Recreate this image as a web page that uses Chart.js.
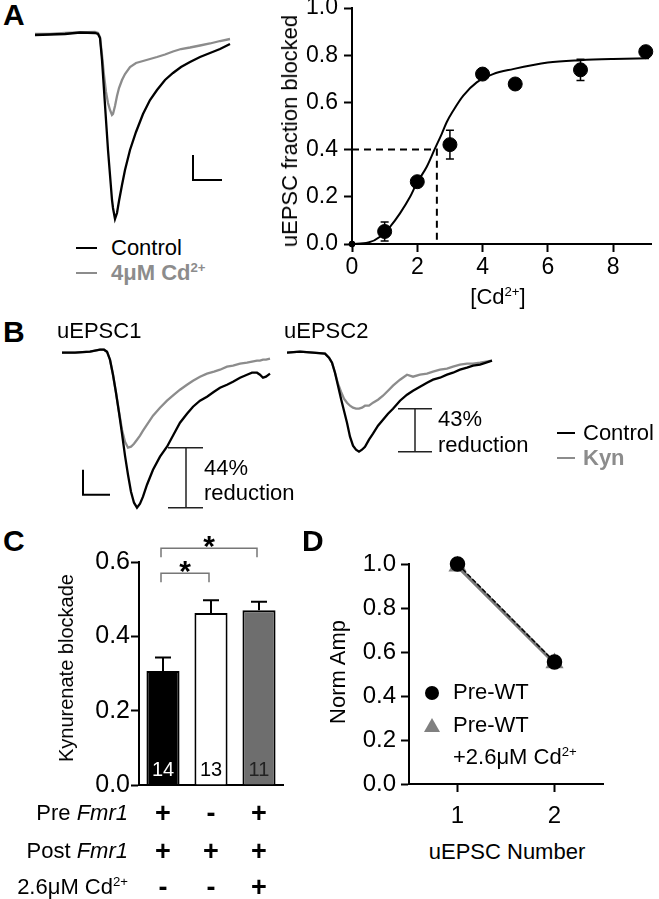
<!DOCTYPE html>
<html>
<head>
<meta charset="utf-8">
<script src="https://cdn.jsdelivr.net/npm/chart.js@4.4.1/dist/chart.umd.min.js"></script>
<style>
  html, body { margin: 0; padding: 0; background: #fff; }
  body { width: 659px; height: 899px; position: relative; overflow: hidden;
         font-family: 'Liberation Sans', Arial, Helvetica, sans-serif; color: #000; }
  canvas { position: absolute; }
  .t { position: absolute; white-space: nowrap; line-height: 1; font-size: 22px; transform: translateY(-50%); }
  .c { transform: translate(-50%, -50%); }
  .r { transform: translate(-100%, -50%); }
  .rot { transform: translate(-50%, -50%) rotate(-90deg); }
  .lbl { font-weight: bold; font-size: 30px; }
  .grey { color: #8c8c8c; font-weight: bold; }
  .sym { font-weight: bold; font-size: 27px; transform: translate(-50%, -50%); }
  sup { font-size: 0.6em; line-height: 0; vertical-align: 0.62em; }
  .ln { position: absolute; height: 2px; }
</style>
</head>
<body>

<canvas id="aTrace" width="196" height="200" style="left:35px;top:24px"></canvas>
<canvas id="aDose" width="379" height="330" style="left:280px;top:-12px"></canvas>
<canvas id="bTrace1" width="210" height="180" style="left:62px;top:340px"></canvas>
<canvas id="bTrace2" width="210" height="180" style="left:287px;top:340px"></canvas>
<canvas id="cBars" width="260" height="300" style="left:40px;top:520px"></canvas>
<canvas id="dPair" width="300" height="300" style="left:320px;top:530px"></canvas>

<!-- panel A -->
<div class="t lbl" style="left:3px;top:15px">A</div>
<div class="ln" style="left:76px;top:247px;width:21px;background:#000"></div>
<div class="t" style="left:111px;top:248px">Control</div>
<div class="ln" style="left:76px;top:272px;width:21px;background:#8c8c8c"></div>
<div class="t grey" style="left:111px;top:273px">4μM Cd<sup>2+</sup></div>
<div class="t rot" style="left:290px;top:131px">uEPSC fraction blocked</div>
<div class="t c" style="left:498px;top:297px">[Cd<sup>2+</sup>]</div>

<!-- panel B -->
<div class="t lbl" style="left:3px;top:332px">B</div>
<div class="t" style="left:57px;top:331px">uEPSC1</div>
<div class="t" style="left:284px;top:331px">uEPSC2</div>
<div class="t" style="left:204px;top:468px">44%</div>
<div class="t" style="left:204px;top:493px">reduction</div>
<div class="t" style="left:438px;top:419px">43%</div>
<div class="t" style="left:438px;top:445px">reduction</div>
<div class="ln" style="left:557px;top:432px;width:18px;background:#000"></div>
<div class="t" style="left:583px;top:433px">Control</div>
<div class="ln" style="left:557px;top:457px;width:18px;background:#8c8c8c"></div>
<div class="t grey" style="left:583px;top:458px">Kyn</div>

<!-- panel C -->
<div class="t lbl" style="left:3px;top:541px">C</div>
<div class="t rot" style="left:66px;top:668px;font-size:20px">Kynurenate blockade</div>
<div class="t r" style="left:128px;top:813px">Pre <i>Fmr1</i></div>
<div class="t r" style="left:128px;top:851px">Post <i>Fmr1</i></div>
<div class="t r" style="left:128px;top:887px">2.6μM Cd<sup>2+</sup></div>
<div id="table"></div>

<!-- panel D -->
<div class="t lbl" style="left:302px;top:541px">D</div>
<div class="t rot" style="left:338px;top:672px">Norm Amp</div>
<div class="t c" style="left:507px;top:852px">uEPSC Number</div>
<div style="position:absolute;left:425px;top:686px;width:14px;height:14px;border-radius:50%;background:#000"></div>
<div class="t" style="left:453px;top:692px">Pre-WT</div>
<div style="position:absolute;left:424px;top:718px;width:0;height:0;border-left:8px solid transparent;border-right:8px solid transparent;border-bottom:14px solid #808080"></div>
<div class="t" style="left:453px;top:725px">Pre-WT</div>
<div class="t" style="left:453px;top:757px">+2.6μM Cd<sup>2+</sup></div>

<script>
// ---- A: example traces (time in ms-like units, current in pA-like units) ----
const aTime = [0, 15, 30, 45, 60, 63, 65, 67, 69, 71, 73, 75, 77, 78, 80, 82, 84, 87, 90, 95, 101, 108, 115, 122, 130, 138, 146, 155, 165, 175, 185, 195];
const aControl = [-1, -0.5, 0, 1.5, 1, 0, -4, -26, -56, -86, -116, -141, -166, -174, -185, -179, -167, -151, -136, -116, -98, -80, -66, -56, -46, -39, -33, -28, -23, -19, -15, -10];
const aCd4 = [0, 0, 1, 1.5, 2, 1, -3, -21, -41, -58, -69, -76, -81, -80, -72, -62, -54, -46, -40, -33, -29, -27, -25, -23, -20.5, -17.5, -15, -13.5, -11.5, -9.5, -7, -5];
const aBarTime = [158, 158, 187];
const aBarCurrent = [-121, -146, -146];

// ---- A: dose response ----
const cdConc = [0, 1, 2, 3, 4, 5, 7, 9];
const fracBlocked = [0, 0.053, 0.264, 0.421, 0.72, 0.678, 0.738, 0.815];
const fracErr = [0, 0.04, 0, 0.061, 0, 0, 0.045, 0];
const fitConc = [0, 0.5, 0.87, 1.17, 1.47, 1.78, 1.98, 2.29, 2.54, 2.75, 2.9, 3.1, 3.41, 3.82, 4.32, 4.93, 6, 7, 8, 9.1];
const fitFrac = [0, 0.006, 0.032, 0.074, 0.13, 0.2, 0.257, 0.327, 0.404, 0.467, 0.516, 0.565, 0.629, 0.685, 0.72, 0.741, 0.769, 0.779, 0.784, 0.787];
const ec50Conc = 2.6;
const halfBlock = 0.4;
const doseTicks = [0, 2, 4, 6, 8];

// ---- B: uEPSC1 / uEPSC2 traces ----
const b1Time = [0, 13, 28, 38, 42, 45, 48, 51, 54, 57, 60, 63, 66, 69, 72, 75, 78, 81, 85, 91, 98, 105, 112, 118, 125, 131, 138, 145, 152, 158, 165, 171, 178, 185, 190, 195, 198, 201, 204, 208];
const b1Control = [0, 0, 1, 3, 3, 1, -7, -22, -40, -60, -81, -103, -122, -139, -150, -155, -151, -144, -132, -117, -104, -94, -81, -70, -61, -54, -48, -44, -39, -35, -32, -29, -25, -22, -20, -20, -22, -25, -24, -21];
const b1Kyn = [0, 0, 1, 3, 3, 1, -7, -22, -40, -59, -77, -89, -95, -94, -91, -87, -83, -78, -72, -63, -55, -48, -42, -37, -32, -28, -24, -21, -19, -17, -14, -13, -11, -10, -9, -8, -8, -7, -7, -6];
const b2Time = [0, 13, 26, 38, 42, 45, 48, 51, 54, 57, 60, 63, 66, 69, 72, 75, 78, 82, 86, 91, 96, 101, 106, 113, 120, 126, 133, 140, 146, 153, 160, 166, 173, 180, 186, 193, 199, 205];
const b2Control = [0, 1, 0, -1, -5, -10, -20, -33, -46, -58, -70, -84, -93, -97, -99, -97, -94, -87, -81, -73, -67, -61, -56, -48, -42, -38, -34, -30, -27, -25, -22, -20, -17, -15, -13, -12, -10, -8];
const b2Kyn = [0, 1, 0, -1, -5, -10, -20, -31, -39, -46, -50, -53, -55, -56, -56, -55, -53, -53, -50, -47, -43, -38, -33, -27, -22, -24, -22, -21, -19, -17, -16, -14, -12, -11, -11, -10, -9, -8];
const bBarTime = [21, 21, 48];
const bBarCurrent = [-117, -142, -142];
const b1BracketTime = [106, 124, 141];
const b2BracketTime = [111, 128, 145];

// ---- C: kynurenate blockade ----
const groups = ['Pre+ Post+', 'Pre- Post+', 'Pre+ Post+ Cd'];
const blockade = [0.307, 0.463, 0.470];
const blockadeErr = [0.036, 0.034, 0.023];
const nCells = [14, 13, 11];
const preFmr1 = ['+', '-', '+'];
const postFmr1 = ['+', '+', '+'];
const cdAdded = ['-', '-', '+'];
const sigPairs = [[0, 1], [0, 2]];
const sigLevels = [0.57, 0.637];

// ---- D: paired pulse ----
const pulseNumbers = ['1', '2'];
const normPreWT = [1.0, 0.555];
const normPreWTCd = [0.99, 0.55];

Chart.defaults.font.family = "'Liberation Sans', Arial, Helvetica, sans-serif";
Chart.defaults.color = '#000';
Chart.defaults.animation = false;
Chart.defaults.responsive = false;
Chart.defaults.plugins.legend.display = false;
Chart.defaults.plugins.tooltip.enabled = false;

let pairs = (xs, ys) => xs.map((x, i) => ({ x: x, y: ys[i] }));

let segments = (segs) => {
    let out = [];
    segs.forEach((seg, i) => {
        if (i > 0) out.push({ x: seg[0][0], y: null });
        seg.forEach(p => out.push({ x: p[0], y: p[1] }));
    });
    return out;
}

let lineSet = (data, color, width, extra) => Object.assign({
    data: data, showLine: true, pointRadius: 0, borderColor: color,
    borderWidth: width, tension: 0, spanGaps: false
}, extra || {});

let traceChart = (id, xMax, yMin, yMax, datasets) => {
    return new Chart(document.getElementById(id), {
        type: 'scatter',
        data: { datasets: datasets },
        options: {
            layout: { padding: 0 },
            scales: {
                x: { type: 'linear', display: false, min: 0, max: xMax },
                y: { type: 'linear', display: false, min: yMin, max: yMax }
            }
        }
    });
}

let bracket = (times, control, treated) => {
    let top = Math.min(...treated), bot = Math.min(...control);
    return segments([
        [[times[0], top], [times[2], top]],
        [[times[1], top], [times[1], bot]],
        [[times[0], bot], [times[2], bot]]
    ]);
}

let axisStyle = (size, tick, pad) => ({
    grid: { display: true, drawOnChartArea: false, drawTicks: true, tickLength: tick, tickColor: '#000', tickWidth: 2 },
    border: { display: true, color: '#000', width: 2 },
    ticks: { font: { size: size }, color: '#000', padding: pad }
});

// A traces
traceChart('aTrace', 196, -190, 10, [
    lineSet(pairs(aTime, aControl), '#000', 2.3),
    lineSet(pairs(aTime, aCd4), '#8c8c8c', 2.3),
    lineSet(pairs(aBarTime, aBarCurrent), '#000', 2)
]);

// B traces
traceChart('bTrace1', 210, -167.3, 12.7, [
    lineSet(pairs(b1Time, b1Control), '#000', 2.3),
    lineSet(pairs(b1Time, b1Kyn), '#8c8c8c', 2.3),
    lineSet(pairs(bBarTime, bBarCurrent), '#000', 2),
    lineSet(bracket(b1BracketTime, b1Control, b1Kyn), '#222', 1.5)
]);
traceChart('bTrace2', 210, -167.3, 12.7, [
    lineSet(pairs(b2Time, b2Control), '#000', 2.3),
    lineSet(pairs(b2Time, b2Kyn), '#8c8c8c', 2.3),
    lineSet(bracket(b2BracketTime, b2Control, b2Kyn), '#222', 1.5)
]);

// A dose response
let doseErrors = {
    id: 'doseErrors',
    afterDatasetsDraw(chart) {
        let ctx = chart.ctx, xs = chart.scales.x, ys = chart.scales.y;
        ctx.save();
        ctx.strokeStyle = '#000';
        ctx.lineWidth = 1.5;
        fracErr.forEach((e, i) => {
            if (!e) return;
            let x = xs.getPixelForValue(cdConc[i]);
            let t = ys.getPixelForValue(fracBlocked[i] + e);
            let b = ys.getPixelForValue(fracBlocked[i] - e);
            ctx.beginPath();
            ctx.moveTo(x, t); ctx.lineTo(x, b);
            ctx.moveTo(x - 4, t); ctx.lineTo(x + 4, t);
            ctx.moveTo(x - 4, b); ctx.lineTo(x + 4, b);
            ctx.stroke();
        });
        ctx.restore();
    }
};

let doseX = axisStyle(23, 8, 2);
doseX.type = 'linear';
doseX.min = 0;
doseX.max = 9.16;
doseX.afterBuildTicks = s => { s.ticks = doseTicks.map(v => ({ value: v })); };
doseX.afterFit = s => { s.height = 60; };
let doseY = axisStyle(23, 8, 6);
doseY.min = 0;
doseY.max = 1;
doseY.ticks.stepSize = 0.2;
doseY.ticks.callback = v => v.toFixed(1);
doseY.afterFit = s => { s.width = 72; };

new Chart(document.getElementById('aDose'), {
    type: 'scatter',
    data: {
        datasets: [
            { data: pairs(cdConc, fracBlocked), pointRadius: cdConc.map(c => c === 0 ? 3 : 7),
              pointBackgroundColor: '#000', pointBorderColor: '#000', clip: false },
            lineSet(pairs(fitConc, fitFrac), '#000', 2, { cubicInterpolationMode: 'monotone', clip: false }),
            lineSet(pairs([0, ec50Conc, ec50Conc], [halfBlock, halfBlock, 0]), '#000', 2, { borderDash: [7, 5] })
        ]
    },
    options: {
        layout: { padding: { top: 20, right: 7, bottom: 14, left: 0 } },
        scales: { x: doseX, y: doseY }
    },
    plugins: [doseErrors]
});

// C bars
let barExtras = {
    id: 'barExtras',
    afterDatasetsDraw(chart) {
        let ctx = chart.ctx, xs = chart.scales.x, ys = chart.scales.y;
        ctx.save();
        ctx.strokeStyle = '#000';
        ctx.lineWidth = 2;
        blockade.forEach((v, i) => {
            let x = xs.getPixelForValue(i);
            let b = ys.getPixelForValue(v), t = ys.getPixelForValue(v + blockadeErr[i]);
            ctx.beginPath();
            ctx.moveTo(x, b); ctx.lineTo(x, t);
            ctx.moveTo(x - 8, t); ctx.lineTo(x + 8, t);
            ctx.stroke();
        });
        ctx.font = '20px ' + Chart.defaults.font.family;
        ctx.textAlign = 'center';
        ctx.textBaseline = 'middle';
        let nColors = ['#fff', '#000', '#222'];
        nCells.forEach((n, i) => {
            ctx.fillStyle = nColors[i];
            ctx.fillText(String(n), xs.getPixelForValue(i), ys.getPixelForValue(0) - 15);
        });
        ctx.restore();
    },
    afterDraw(chart) {
        let ctx = chart.ctx, xs = chart.scales.x, ys = chart.scales.y;
        ctx.save();
        ctx.strokeStyle = '#777';
        ctx.lineWidth = 1.5;
        sigPairs.forEach((p, k) => {
            let x0 = xs.getPixelForValue(p[0]) - 2, x1 = xs.getPixelForValue(p[1]) - 2;
            let y = ys.getPixelForValue(sigLevels[k]);
            ctx.beginPath();
            ctx.moveTo(x0, y + 9); ctx.lineTo(x0, y); ctx.lineTo(x1, y); ctx.lineTo(x1, y + 9);
            ctx.stroke();
            ctx.fillStyle = '#000';
            ctx.font = 'bold 30px ' + Chart.defaults.font.family;
            ctx.textAlign = 'center';
            ctx.textBaseline = 'alphabetic';
            ctx.fillText('*', (x0 + x1) / 2, y + 8);
        });
        ctx.restore();
    }
};

let barY = axisStyle(25, 8, 1);
barY.min = 0;
barY.max = 0.6;
barY.ticks.stepSize = 0.2;
barY.ticks.callback = v => v.toFixed(1);
barY.afterFit = s => { s.width = 99; };

let chartC = new Chart(document.getElementById('cBars'), {
    type: 'bar',
    data: {
        labels: groups,
        datasets: [{
            data: blockade,
            backgroundColor: ['#000', '#fff', '#6e6e6e'],
            borderColor: '#000',
            borderWidth: 2,
            barPercentage: 0.69,
            categoryPercentage: 1
        }]
    },
    options: {
        layout: { padding: { top: 42, right: 17, bottom: 25, left: 0 } },
        scales: {
            x: { grid: { display: false }, ticks: { display: false },
                 border: { display: true, color: '#000', width: 2 },
                 afterFit: s => { s.height = 10; } },
            y: barY
        }
    },
    plugins: [barExtras]
});

// table of genotype / treatment symbols under the bars
let table = document.getElementById('table');
let rowsY = [813, 851, 887];
[preFmr1, postFmr1, cdAdded].forEach((row, r) => {
    row.forEach((s, i) => {
        let el = document.createElement('div');
        el.className = 't sym';
        el.style.left = (40 + chartC.scales.x.getPixelForValue(i)) + 'px';
        el.style.top = rowsY[r] + 'px';
        el.textContent = s;
        table.appendChild(el);
    });
});

// D paired pulse
let pairX = axisStyle(24, 8, 10);
pairX.type = 'category';
pairX.offset = true;
pairX.grid.offset = false;
pairX.afterFit = s => { s.height = 46; };
let pairY = axisStyle(24, 8, 5);
pairY.min = 0;
pairY.max = 1;
pairY.ticks.stepSize = 0.2;
pairY.ticks.callback = v => v.toFixed(1);
pairY.afterFit = s => { s.width = 89; };

new Chart(document.getElementById('dPair'), {
    type: 'line',
    data: {
        labels: pulseNumbers,
        datasets: [
            { label: 'Pre-WT', data: normPreWT, borderColor: '#000', borderWidth: 1.5, borderDash: [5, 2],
              pointStyle: 'circle', pointRadius: 7, pointBackgroundColor: '#000', pointBorderColor: '#000', clip: false },
            { label: 'Pre-WT +2.6μM Cd2+', data: normPreWTCd, borderColor: '#7a7a7a', borderWidth: 3.5,
              pointStyle: 'triangle', pointRadius: 7, pointBackgroundColor: '#808080', pointBorderColor: '#808080', clip: false }
        ]
    },
    options: {
        layout: { padding: { top: 34, right: 17, bottom: 0, left: 0 } },
        scales: { x: pairX, y: pairY }
    }
});
</script>
</body>
</html>
